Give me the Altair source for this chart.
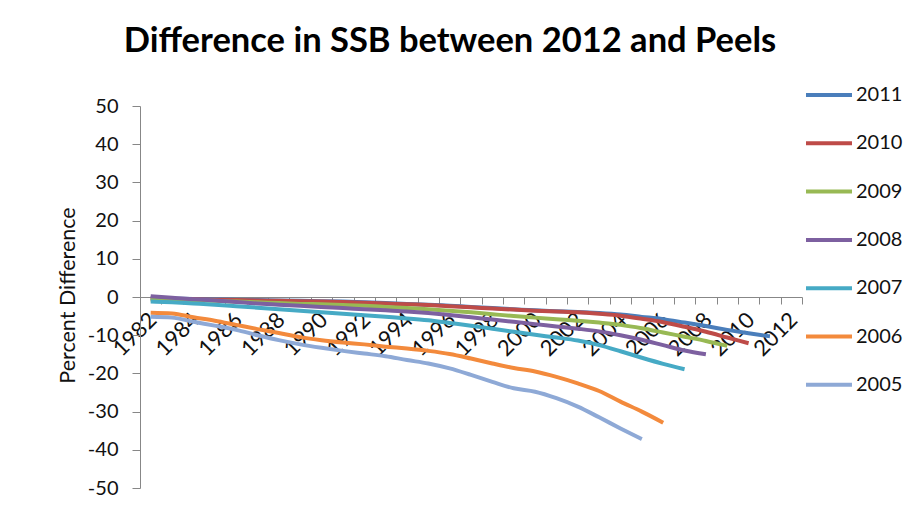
import altair as alt
import pandas as pd

years = [1982, 1983, 1984, 1985, 1986, 1987, 1988, 1989, 1990, 1991,
         1992, 1993, 1994, 1995, 1996, 1997, 1998, 1999, 2000, 2001,
         2002, 2003, 2004, 2005, 2006, 2007, 2008, 2009, 2010, 2011, 2012]

series_names = ["2011", "2010", "2009", "2008", "2007", "2006", "2005"]
series_colors = ["#4A7EBB", "#BE4B48", "#98B954", "#7D60A0", "#46AAC5", "#F38A3C", "#8EA9D6"]

v2011 = [-0.3, -0.4, -0.5, -0.6, -0.7, -0.8, -0.9, -1.0, -1.1, -1.2,
         -1.4, -1.6, -1.8, -2.0, -2.3, -2.6, -2.9, -3.2, -3.5, -3.7,
         -3.9, -4.2, -4.6, -5.2, -5.8, -6.7, -7.6, -8.6, -9.5, -10.3]
v2010 = [-0.4, -0.5, -0.6, -0.7, -0.8, -0.9, -1.0, -1.1, -1.2, -1.3,
         -1.5, -1.7, -1.9, -2.1, -2.4, -2.7, -3.0, -3.3, -3.6, -3.8,
         -4.0, -4.4, -4.9, -5.7, -6.6, -7.8, -9.1, -10.6, -12.1]
v2009 = [-0.7, -0.8, -0.9, -1.0, -1.2, -1.4, -1.6, -1.8, -1.9, -2.1,
         -2.3, -2.6, -2.9, -3.2, -3.6, -4.0, -4.5, -5.0, -5.4, -5.8,
         -6.2, -6.7, -7.3, -8.2, -9.3, -10.4, -11.5, -12.8]
v2008 = [0.2, -0.2, -0.6, -0.9, -1.3, -1.7, -2.0, -2.3, -2.6, -2.9,
         -3.2, -3.5, -3.8, -4.2, -4.7, -5.3, -5.9, -6.5, -7.1, -7.7,
         -8.3, -9.0, -10.0, -11.2, -12.6, -14.0, -15.0]
v2007 = [-1.2, -1.4, -1.7, -2.0, -2.4, -2.8, -3.2, -3.6, -4.0, -4.4,
         -4.8, -5.2, -5.6, -6.1, -6.8, -7.5, -8.3, -9.1, -9.9, -10.6,
         -11.4, -12.6, -14.2, -15.9, -17.5, -18.9]
v2006 = [-4.1, -4.3, -5.3, -6.2, -7.3, -8.4, -9.4, -10.5, -11.3, -11.9,
         -12.4, -13.0, -13.5, -14.1, -14.9, -16.1, -17.4, -18.6, -19.5, -20.9,
         -22.6, -24.6, -27.4, -30.0, -32.9]
v2005 = [-5.2, -5.4, -6.5, -7.5, -8.6, -10.0, -11.3, -12.4, -13.3, -14.1,
         -14.8, -15.5, -16.5, -17.4, -18.7, -20.4, -22.2, -23.9, -24.8, -26.5,
         -28.7, -31.5, -34.4, -37.2]

y_ticks = [-50, -40, -30, -20, -10, 0, 10, 20, 30, 40, 50]

rows = []
for k, (name, vals) in enumerate(zip(series_names, [v2011, v2010, v2009, v2008, v2007, v2006, v2005])):
    for yr, v in zip(years, vals):
        rows.append({"year": yr, "series": name, "value": v, "k": k})
df = pd.DataFrame(rows)

W, H = 662, 382
band = W / len(years)
tick_values = [y - 0.5 for y in years] + [years[-1] + 0.5]

FONT = "Lato"
AX = "#878787"
TXT = "#111111"

x = alt.X(
    "year:Q",
    scale=alt.Scale(domain=[years[0] - 0.5, years[-1] + 0.5], nice=False, zero=False),
    axis=alt.Axis(
        values=tick_values,
        labelExpr="(datum.value + 0.5) % 2 == 0 ? format(datum.value + 0.5, 'd') : ''",
        labelOffset=band / 2 + 2,
        labelAngle=-45,
        labelAlign="right",
        labelBaseline="middle",
        labelPadding=12,
        labelOverlap=False,
        labelFlush=False,
        labelFont=FONT,
        labelFontSize=22,
        labelColor=TXT,
        offset=-H / 2,
        tickSize=7,
        tickColor=AX,
        domainColor=AX,
        grid=False,
        title=None,
    ),
)

y = alt.Y(
    "value:Q",
    scale=alt.Scale(domain=[-50, 50], nice=False),
    axis=alt.Axis(
        values=y_ticks,
        labelExpr="datum.value < 0 ? '-' + abs(datum.value) : '' + datum.value",
        tickSize=8,
        tickColor=AX,
        domainColor=AX,
        grid=False,
        labelFont=FONT,
        labelFontSize=20,
        labelColor=TXT,
        labelPadding=14,
        title="Percent Difference",
        titleFont=FONT,
        titleFontSize=21.5,
        titleFontWeight="normal",
        titleColor=TXT,
        titleAngle=-90,
        titleAlign="center",
        titleBaseline="middle",
        titleX=-72,
        titleY=H / 2 - 2,
    ),
)

color = alt.Color(
    "series:N",
    scale=alt.Scale(domain=series_names, range=series_colors),
    legend=alt.Legend(
        orient="none",
        legendX=664,
        legendY=-36,
        title=None,
        symbolType="stroke",
        symbolSize=2116,
        symbolStrokeWidth=4,
        labelFont=FONT,
        labelFontSize=20,
        labelColor=TXT,
        labelOffset=2,
        rowPadding=13.3,
    ),
)

chart = (
    alt.Chart(df)
    .mark_line(strokeWidth=4, interpolate="monotone")
    .encode(x=x, y=y, color=color, order=alt.Order("year:Q"), detail="k:O")
    .properties(
        width=W,
        height=H,
        autosize="none",
        padding={"left": 132, "top": 98, "right": 101, "bottom": 10},
        title=alt.TitleParams(
            "Difference in SSB between 2012 and Peels",
            font=FONT,
            fontSize=34.5,
            fontWeight="bold",
            color="#000",
            anchor="middle",
            dx=-21,
            offset=11,
        ),
    )
    .configure_view(stroke=None)
)

chart.save("out.html", embed_options={"renderer": "svg", "actions": False})
